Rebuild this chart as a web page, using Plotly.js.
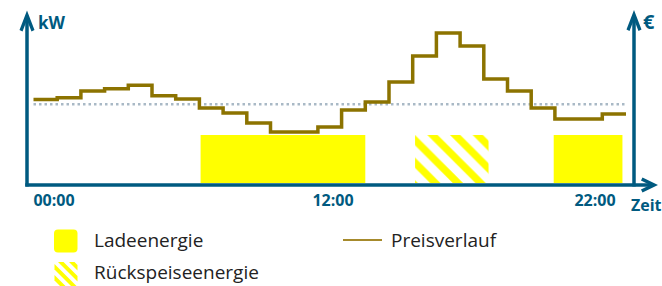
<!DOCTYPE html>
<html>
<head>
<meta charset="utf-8">
<script src="https://cdn.plot.ly/plotly-3.0.1.min.js"></script>
<style>
  html, body { margin: 0; padding: 0; background: #ffffff; }
  #chart { width: 662px; height: 286px; }
</style>
</head>
<body>
<div id="chart"></div>
<script>
// ---------------- data ----------------
// step boundaries (hour index) and price level for each step (relative units)
const priceHours = [0, 1, 2, 3, 4, 5, 6, 7, 8, 9, 10, 11, 12, 13, 14, 15, 16, 17, 18, 19, 20, 21, 22, 23, 24, 25];
const priceLevel = [83.5, 85.3, 92, 94.3, 97.7, 87.3, 84, 75, 70, 60, 51, 51, 56, 73, 81, 101, 127, 150, 137, 104, 92, 75, 64, 64, 69, 69];
// average price (dotted reference)
const avgHours = [0, 25];
const avgPrice = [78.7, 78.7];
// charging energy blocks (start/end hour)
const chargeStart = [7.05, 21.95];
const chargeEnd = [14.0, 24.85];
// feed-back energy blocks
const feedStart = [16.1];
const feedEnd = [19.2];
const blockLevel = 48;
// tick labels
const tickLabels = ['00:00', '12:00', '22:00'];
const legendLabels = ['Ladeenergie', 'Rückspeiseenergie', 'Preisverlauf'];

// ---------------- layout helpers ----------------
const W = 662, H = 286;
const L = 26, R = 634, T = 0, B = 183;
const PW = R - L, PH = B - T;
const px = x => (x - L) / PW;
const py = y => (B - y) / PH;
const hourPx = 23.7, hourOrigin = 33.5;
const xRange = [(L - hourOrigin) / hourPx, (R - hourOrigin) / hourPx];
const tickPx = [54, 333, 595];
const tickPos = tickPx.map(p => (p - hourOrigin) / hourPx);

const axisColor = '#005A80';
const lineColor = '#8C7300';
const yellow = '#FFFF00';
const textFont = 'Open Sans, Noto Sans, sans-serif';

function poly(points) {
  return points.map((p, i) => (i === 0 ? 'M' : 'L') + px(p[0]).toFixed(5) + ',' + py(p[1]).toFixed(5)).join(' ') + ' Z';
}
// clip polygon to rectangle (Sutherland-Hodgman)
function clipRect(pts, x0, y0, x1, y1) {
  const edges = [
    [p => p[0] >= x0, (a, b) => { const t = (x0 - a[0]) / (b[0] - a[0]); return [x0, a[1] + t * (b[1] - a[1])]; }],
    [p => p[0] <= x1, (a, b) => { const t = (x1 - a[0]) / (b[0] - a[0]); return [x1, a[1] + t * (b[1] - a[1])]; }],
    [p => p[1] >= y0, (a, b) => { const t = (y0 - a[1]) / (b[1] - a[1]); return [a[0] + t * (b[0] - a[0]), y0]; }],
    [p => p[1] <= y1, (a, b) => { const t = (y1 - a[1]) / (b[1] - a[1]); return [a[0] + t * (b[0] - a[0]), y1]; }]
  ];
  let out = pts;
  for (const [inside, inter] of edges) {
    const inp = out; out = [];
    for (let i = 0; i < inp.length; i++) {
      const cur = inp[i], prev = inp[(i + inp.length - 1) % inp.length];
      if (inside(cur)) {
        if (!inside(prev)) out.push(inter(prev, cur));
        out.push(cur);
      } else if (inside(prev)) {
        out.push(inter(prev, cur));
      }
    }
    if (!out.length) break;
  }
  return out;
}

// ---------------- traces ----------------
const mid = (a, b) => a.map((v, i) => (v + b[i]) / 2);
const wid = (a, b) => a.map((v, i) => b[i] - v);

const traces = [
  {
    type: 'bar', name: legendLabels[0],
    x: mid(chargeStart, chargeEnd), width: wid(chargeStart, chargeEnd),
    y: chargeStart.map(() => blockLevel),
    marker: { color: yellow, line: { width: 0 } },
    showlegend: false, hoverinfo: 'skip'
  },
  {
    type: 'bar', name: legendLabels[1],
    x: mid(feedStart, feedEnd), width: wid(feedStart, feedEnd),
    y: feedStart.map(() => blockLevel),
    marker: {
      color: yellow, line: { width: 0 },
      pattern: { shape: '\\', fgcolor: yellow, bgcolor: '#ffffff', size: 16, solidity: 0.45, fillmode: 'replace' }
    },
    showlegend: false, hoverinfo: 'skip'
  },
  {
    type: 'scatter', mode: 'lines', name: 'Durchschnitt',
    x: avgHours, y: avgPrice,
    line: { color: '#A9B9C6', width: 2.5, dash: '2.5px,3px' },
    showlegend: false, hoverinfo: 'skip'
  },
  {
    type: 'scatter', mode: 'lines', name: legendLabels[2],
    x: priceHours, y: priceLevel,
    line: { color: lineColor, width: 3.5, shape: 'hv' },
    showlegend: false, hoverinfo: 'skip'
  }
];

// ---------------- shapes (axes with arrows, legend symbols) ----------------
const shapes = [
  // left axis
  { type: 'line', xref: 'paper', yref: 'paper', x0: px(27), x1: px(27), y0: py(186.5), y1: py(16), line: { color: axisColor, width: 3.5 } },
  // right axis
  { type: 'line', xref: 'paper', yref: 'paper', x0: px(634), x1: px(634), y0: py(186.5), y1: py(16), line: { color: axisColor, width: 3.5 } },
  // bottom axis
  { type: 'line', xref: 'paper', yref: 'paper', x0: px(25.3), x1: px(652), y0: py(185), y1: py(185), line: { color: axisColor, width: 3.5 } },
  // arrowheads
  { type: 'path', xref: 'paper', yref: 'paper', line: { width: 0 }, fillcolor: axisColor,
    path: poly([[27, 10.5], [34.5, 30], [31.5, 31.5], [27, 20], [22.5, 31.5], [19.5, 30]]) },
  { type: 'path', xref: 'paper', yref: 'paper', line: { width: 0 }, fillcolor: axisColor,
    path: poly([[634, 10], [641.5, 29.5], [638.5, 31], [634, 19.5], [629.5, 31], [626.5, 29.5]]) },
  { type: 'path', xref: 'paper', yref: 'paper', line: { width: 0 }, fillcolor: axisColor,
    path: poly([[658, 185], [642.5, 192.5], [641, 189.5], [650, 185], [641, 180.5], [642.5, 177.5]]) },
  // legend: yellow square (rounded)
  { type: 'path', xref: 'paper', yref: 'paper', line: { width: 0 }, fillcolor: yellow,
    path: `M${px(58)},${py(229.5)} L${px(73.5)},${py(229.5)} Q${px(77.5)},${py(229.5)} ${px(77.5)},${py(233.5)} L${px(77.5)},${py(248.5)} Q${px(77.5)},${py(252.5)} ${px(73.5)},${py(252.5)} L${px(58)},${py(252.5)} Q${px(54)},${py(252.5)} ${px(54)},${py(248.5)} L${px(54)},${py(233.5)} Q${px(54)},${py(229.5)} ${px(58)},${py(229.5)} Z` },
  // legend: price line
  { type: 'line', xref: 'paper', yref: 'paper', x0: px(343), x1: px(382), y0: py(240), y1: py(240), line: { color: '#A68A2C', width: 2 } }
];
// legend: hatched icon (diagonal stripes clipped to the icon box)
[-226, -215, -204, -193].forEach(k => {
  const band = [[250 + k, 250], [255.5 + k, 250], [305.5 + k, 300], [300 + k, 300]];
  const c = clipRect(band, 54.5, 262, 77.5, 286);
  if (c.length > 2) {
    shapes.push({ type: 'path', xref: 'paper', yref: 'paper', line: { width: 0 }, fillcolor: yellow, path: poly(c) });
  }
});

// ---------------- annotations ----------------
const ann = (text, x, y, opts) => Object.assign({
  text: text, xref: 'paper', yref: 'paper', x: px(x), y: py(y),
  xanchor: 'left', yanchor: 'middle', showarrow: false
}, opts);

const annotations = [
  ann('kW', 36, 22.5, { font: { family: textFont, size: 17, color: axisColor, weight: 'bold' } }),
  ann('€', 640.5, 21, { font: { family: textFont, size: 20, color: axisColor, weight: 'bold' } }),
  ann('Zeit', 629, 205, { font: { family: textFont, size: 16, color: axisColor, weight: 'bold' } }),
  ann(legendLabels[0], 92, 240, { font: { family: textFont, size: 19, color: '#222222' } }),
  ann(legendLabels[1], 92, 272, { font: { family: textFont, size: 19, color: '#222222' } }),
  ann(legendLabels[2], 389, 240, { font: { family: textFont, size: 19, color: '#222222' } })
];

const layout = {
  width: W, height: H,
  margin: { l: L, r: W - R, t: T, b: H - B, pad: 0 },
  paper_bgcolor: '#ffffff', plot_bgcolor: '#ffffff',
  barmode: 'overlay',
  showlegend: false,
  xaxis: {
    range: xRange, showgrid: false, zeroline: false, showline: false,
    tickmode: 'array', tickvals: tickPos, ticktext: tickLabels, ticks: '',
    tickfont: { family: textFont, size: 16, color: axisColor, weight: 'bold' },
    ticklabelstandoff: 6, fixedrange: true
  },
  yaxis: { range: [0, PH], visible: false, fixedrange: true },
  shapes: shapes,
  annotations: annotations
};

Plotly.newPlot('chart', traces, layout, { displayModeBar: false, staticPlot: true });
</script>
</body>
</html>
